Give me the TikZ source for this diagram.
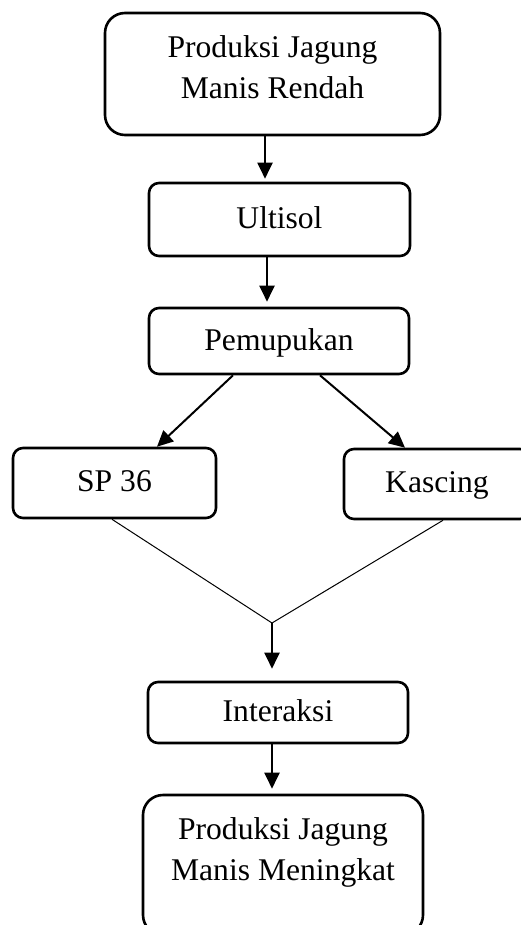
\documentclass[tikz,border=0pt]{standalone}
\usepackage{fontspec}
\setmainfont{Liberation Serif}
\usetikzlibrary{arrows.meta}

\begin{document}
\begin{tikzpicture}[x=0.5pt, y=-0.5pt,
  kotak/.style={draw, line width=1.3pt, rounded corners=5pt, align=center,
    font=\fontsize{15.8pt}{20.5pt}\selectfont, inner sep=0pt, text depth=1.5pt},
  besar/.style={kotak, rounded corners=10pt},
  panah/.style={-{Triangle[length=8pt, width=7.5pt]}, line width=1pt},
  garis/.style={line width=0.5pt}]
\useasboundingbox (0,0) rectangle (520,925);
% Kotak
\node[besar, minimum width=167.5pt, minimum height=61pt, text depth=7pt] (rendah) at (272.5,74) {Produksi Jagung\\Manis Rendah};
\node[kotak, minimum width=130.5pt, minimum height=36.5pt] (ultisol) at (279.5,219.5) {Ultisol};
\node[kotak, minimum width=130pt, minimum height=33pt] (pupuk) at (279,341) {Pemupukan};
\node[kotak, minimum width=101.5pt, minimum height=35pt] (sp) at (114.5,483) {SP 36};
\node[kotak, minimum width=93pt, minimum height=35pt] (kascing) at (437,484) {Kascing};
\coordinate (temu) at (272,623);
\node[kotak, minimum width=130pt, minimum height=30.5pt] (interaksi) at (278,712.5) {Interaksi};
\node[besar, minimum width=140pt, minimum height=70pt, text depth=16.4pt] (tinggi) at (283,865) {Produksi Jagung\\Manis Meningkat};
% Panah
\draw[panah, shorten >=1.5pt] (rendah.south -| 265,0) -- (ultisol.north -| 265,0);
\draw[panah, shorten >=2.5pt] (ultisol.south -| 267,0) -- (pupuk.north -| 267,0);
\draw[panah] (pupuk.south -| 233,0) -- (sp.north -| 157,0);
\draw[panah] (pupuk.south -| 320,0) -- (kascing.north -| 405,0);
\draw[garis] (sp.south -| 112,0) -- (temu) -- (kascing.south -| 443,0);
\draw[panah, shorten >=6pt] (temu) -- (interaksi.north -| temu);
\draw[panah, shorten >=2.5pt] (interaksi.south -| 272,0) -- (tinggi.north -| 272,0);
\end{tikzpicture}
\end{document}
